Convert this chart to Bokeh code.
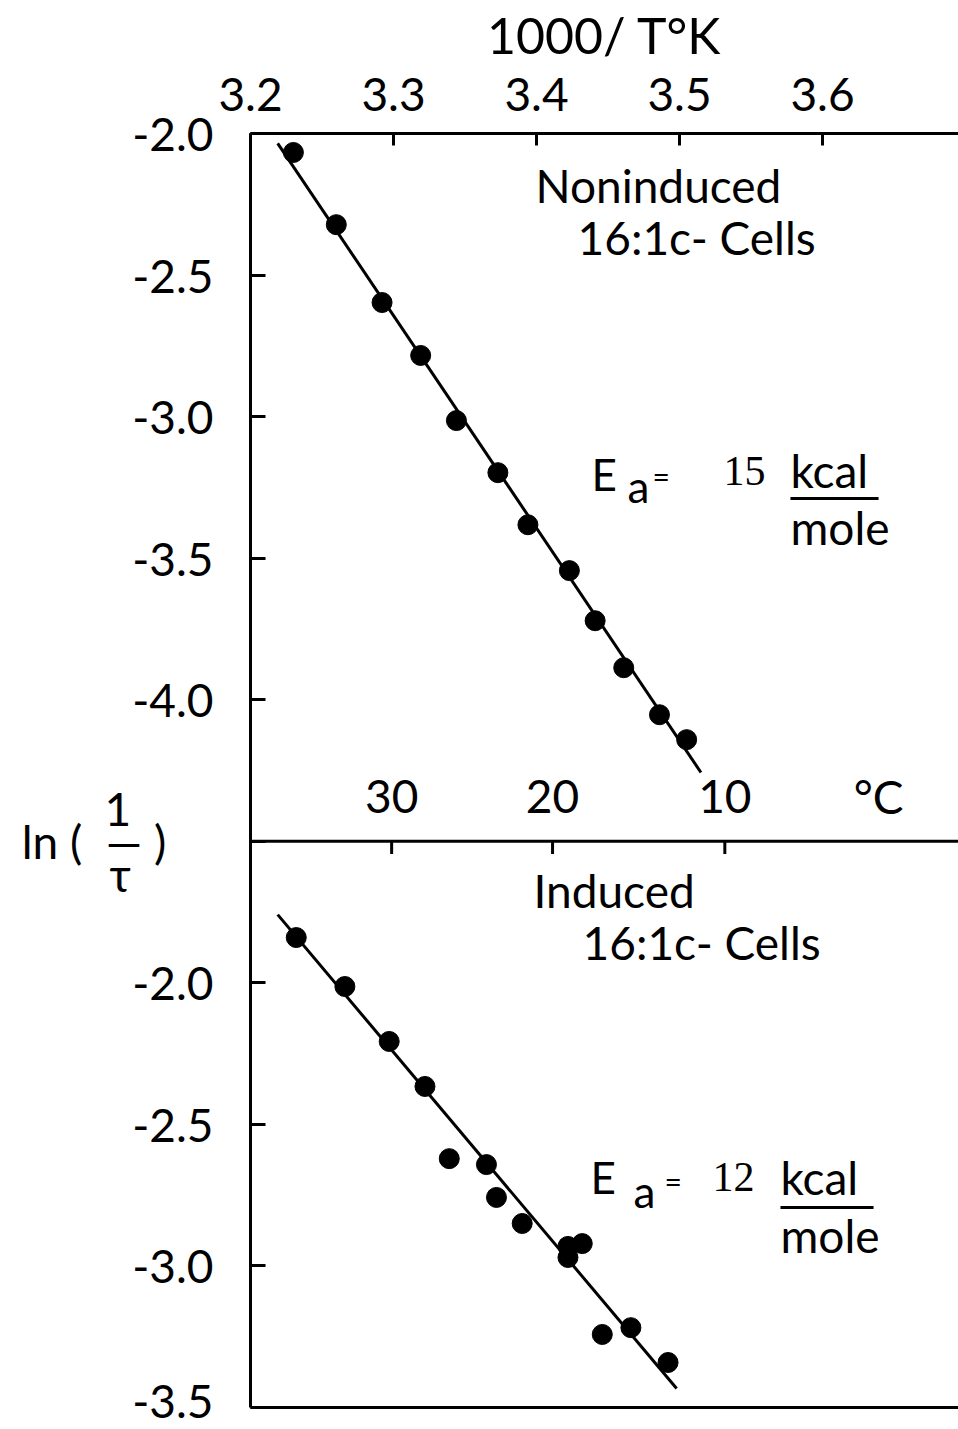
import math
from bokeh.plotting import figure
from bokeh.models import (Range1d, LinearAxis, FixedTicker, CustomJSTickFormatter,
                          Span, Label)
from bokeh.embed import file_html
from bokeh.resources import INLINE
from bokeh.core.properties import value

FONT = "Lato"

# ---------------- data ----------------
inv_T_ticks = [3.2, 3.3, 3.4, 3.5, 3.6]          # 1000/T (K)
celsius_ticks = [30, 20, 10]                     # °C scale
top_y_ticks = [-2.0, -2.5, -3.0, -3.5, -4.0]
bot_y_ticks = [-2.0, -2.5, -3.0, -3.5]
top_y_range = (-4.5, -2.0)
bot_y_range = (-3.5, -1.5)

# Noninduced 16:1c cells
non_x = [3.230, 3.260, 3.292, 3.319, 3.344, 3.373, 3.394, 3.423, 3.441, 3.461, 3.486, 3.505]
non_y = [-2.067, -2.322, -2.597, -2.784, -3.014, -3.198, -3.382, -3.544, -3.721, -3.887, -4.053, -4.141]
non_fit_x = [3.219, 3.515]
non_fit_y = [-2.035, -4.257]

# Induced 16:1c cells
ind_x = [3.232, 3.266, 3.297, 3.322, 3.339, 3.365, 3.372, 3.390, 3.422, 3.422, 3.432, 3.446, 3.466, 3.492]
ind_y = [-1.840, -2.013, -2.207, -2.366, -2.621, -2.642, -2.758, -2.850, -2.931, -2.970, -2.921, -3.242, -3.218, -3.341]
ind_fit_x = [3.219, 3.498]
ind_fit_y = [-1.759, -3.433]

# ---------------- stacked panel geometry ----------------
top_span = top_y_range[1] - top_y_range[0]
bot_span = bot_y_range[1] - bot_y_range[0]
main_lo = top_y_range[1] - (top_span + bot_span)
shift = bot_y_range[0] - main_lo           # bottom-panel value = main value + shift

W, H = 958, 1427
B_LEFT, B_TOP, B_BOTTOM = 250, 133, 20
FRAME_W = W - B_LEFT
FRAME_H = H - B_TOP - B_BOTTOM
PX_Y = FRAME_H / (top_span + bot_span)

p = figure(width=W, height=H,
           x_range=Range1d(3.2, 3.2 + FRAME_W / 1430.0),
           y_range=Range1d(main_lo, top_y_range[1]),
           output_backend="svg", toolbar_location=None,
           x_axis_location="above", y_axis_location="left",
           min_border_left=B_LEFT, min_border_right=0,
           min_border_top=B_TOP, min_border_bottom=B_BOTTOM)
p.extra_y_ranges = {"bot": Range1d(main_lo + shift, top_y_range[1] + shift)}
p.grid.visible = False
p.outline_line_color = None
p.background_fill_color = "white"
p.border_fill_color = "white"

# top axis (1000/T)
ax = p.above[0]
ax.ticker = FixedTicker(ticks=inv_T_ticks)
ax.formatter = CustomJSTickFormatter(code="return tick.toFixed(1);")
ax.axis_label = "1000/ T°K"
ax.axis_label_text_font = FONT
ax.axis_label_text_font_size = "50px"
ax.axis_label_text_font_style = "normal"
ax.axis_label_text_color = "black"
ax.axis_label_standoff = 10
ax.major_label_text_font = FONT
ax.major_label_text_font_size = "46px"
ax.major_label_text_color = "black"
ax.major_label_standoff = 23
ax.major_tick_in = 12
ax.major_tick_out = 0
ax.minor_tick_in = 0
ax.minor_tick_out = 0
ax.axis_line_width = 3
ax.major_tick_line_width = 3
ax.axis_line_color = "black"
ax.major_tick_line_color = "black"

# left axis (shared by both panels); the y title sits at the panel divider
NB = "\u00a0"
y_title = "\n".join([
    "1" + NB * 7,
    "ln" + NB + "(" + NB * 2 + "\u2014" + NB + ")" + NB * 4,
    "\u03c4" + NB * 7,
])
ay = p.left[0]
ay.ticker = FixedTicker(ticks=top_y_ticks + [top_y_range[0]] + [t - shift for t in bot_y_ticks])
ay.formatter = CustomJSTickFormatter(
    args=dict(split=top_y_range[0], shift=shift, title=y_title),
    code="""
if (Math.abs(tick - split) < 1e-9) { return title; }
const v = tick < split ? tick + shift : tick;
return v.toFixed(1);
""")
ay.major_label_text_font = FONT
ay.major_label_text_font_size = "46px"
ay.major_label_text_line_height = 0.6
ay.major_label_text_color = "black"
ay.major_label_standoff = 37
ay.major_tick_in = 15
ay.major_tick_out = 0
ay.minor_tick_in = 0
ay.minor_tick_out = 0
ay.axis_line_width = 3
ay.major_tick_line_width = 3
ay.axis_line_color = "black"
ay.major_tick_line_color = "black"

# bottom frame line
bax = LinearAxis(ticker=FixedTicker(ticks=[]), axis_line_width=3, axis_line_color="black",
                 major_tick_in=0, major_tick_out=0, minor_tick_in=0, minor_tick_out=0,
                 major_label_text_font_size="1px")
p.add_layout(bax, "below")

# divider between the panels + Celsius scale
p.add_layout(Span(location=top_y_range[0], dimension="width", line_color="black", line_width=3))
cx = [1000.0 / (c + 273.15) for c in celsius_ticks]
p.segment(x0=cx, y0=[top_y_range[0]] * len(cx), x1=cx, y1=[top_y_range[0] - 0.045] * len(cx),
          line_color="black", line_width=3)
c_label_y = top_y_range[0] + 27 / PX_Y + 0.387 * 46 / PX_Y
p.text(x=cx, y=[c_label_y] * len(cx), text=[str(c) for c in celsius_ticks],
       text_font=value(FONT), text_font_size="46px", text_align="center",
       text_baseline="alphabetic", text_color="black")

# data: top panel
p.line(non_fit_x, non_fit_y, line_color="black", line_width=3)
p.scatter(non_x, non_y, size=20, color="black")
# data: bottom panel
p.line(ind_fit_x, ind_fit_y, line_color="black", line_width=3, y_range_name="bot")
p.scatter(ind_x, ind_y, size=20, color="black", y_range_name="bot")


def lab(x, y, text, size, font=FONT, align="left"):
    # y is the wanted baseline; compensate the renderer's baseline offset
    y_adj = y + 0.387 * size / PX_Y
    p.add_layout(Label(x=x, y=y_adj, text=text, text_font=font, text_font_size=f"{size}px",
                       text_align=align, text_baseline="alphabetic", text_color="black"))


# Celsius unit
lab(3.6392, top_y_range[0] + 27 / PX_Y, "°C", 46, align="center")

# top panel annotations
lab(3.3993, -2.2473, "Noninduced", 46)
lab(3.4287, -2.4309, "16:1c- Cells", 46)
lab(3.4385, -3.2611, "E", 44)
lab(3.4636, -3.3070, "a", 44)
lab(3.4811, -3.2504, "=", 30)
lab(3.5308, -3.2504, "15", 42, font="Liberation Serif")
lab(3.5776, -3.2540, "kcal", 46)
lab(3.5776, -3.4553, "mole", 46)
p.segment(x0=[3.5776], y0=[-3.2893], x1=[3.6392], y1=[-3.2893], line_color="black", line_width=3)

# bottom panel annotations
lab(3.3979, -4.7375, "Induced", 46)
lab(3.4322, -4.9212, "16:1c- Cells", 46)
lab(3.4378, -5.7443, "E", 44)
lab(3.4678, -5.7938, "a", 44)
lab(3.4895, -5.7407, "=", 30)
lab(3.5231, -5.7443, "12", 42, font="Liberation Serif")
lab(3.5706, -5.7513, "kcal", 46)
lab(3.5706, -5.9562, "mole", 46)
p.segment(x0=[3.5706], y0=[-5.7937], x1=[3.6357], y1=[-5.7937], line_color="black", line_width=3)

open("out.html", "w").write(file_html(p, INLINE))
